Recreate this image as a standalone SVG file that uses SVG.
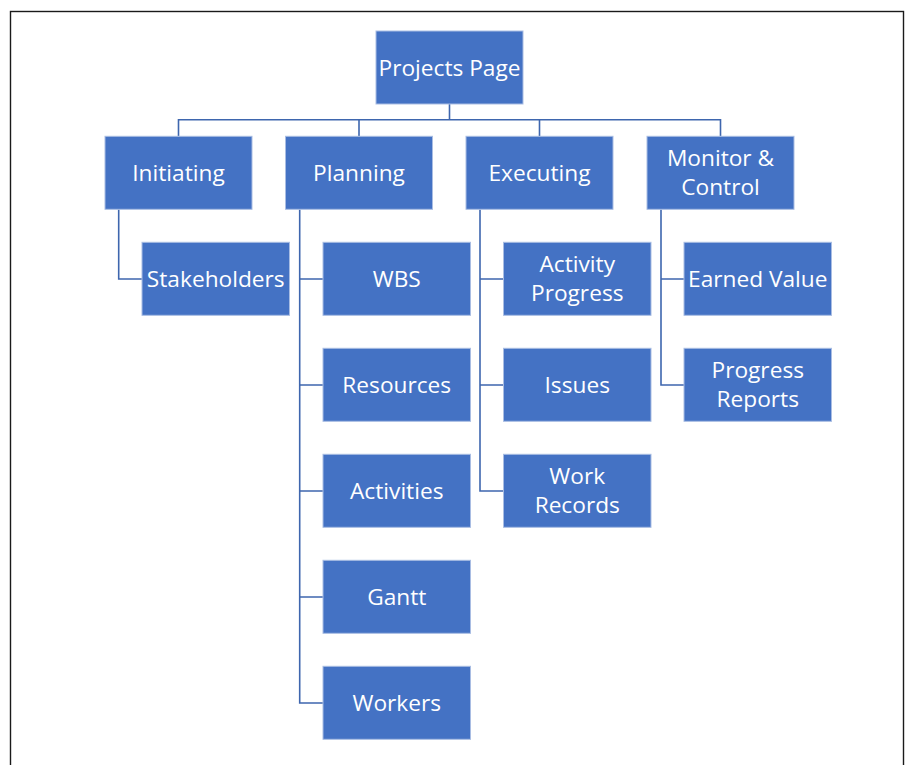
<svg xmlns="http://www.w3.org/2000/svg" width="906" height="765" viewBox="0 0 906 765">
<style>
.box{fill:#4472C4;stroke:#A9BDE3;stroke-width:1}
.t{font-family:"Open Sans","Liberation Sans",sans-serif;font-size:22.7px;fill:#ffffff;text-anchor:middle}
.c{fill:none;stroke:#3E66AE;stroke-width:1.6}
</style>
<rect x="0" y="0" width="906" height="765" fill="#ffffff"/>
<rect x="10.5" y="11.5" width="893" height="770" fill="none" stroke="#1a1a1a" stroke-width="1.4"/>
<g id="connectors">
<path class="c" d="M449.5 104V119.7M178.5 136V119.7H720.5V136M359 119.7V136M539.5 119.7V136"/>
<path class="c" d="M118.7 209.5V279H142"/>
<path class="c" d="M299.7 209.5V703H323M299.7 279H323M299.7 385H323M299.7 491H323M299.7 597H323"/>
<path class="c" d="M480 209.5V491H503.5M480 279H503.5M480 385H503.5"/>
<path class="c" d="M661 209.5V385H684M661 279H684"/>
</g>
<g id="projects-page"><rect class="box" x="376" y="31" width="147" height="73"/><text class="t" x="449.5" y="75.5">Projects Page</text></g>
<g id="initiating"><rect class="box" x="105" y="136.3" width="147" height="73"/><text class="t" x="178.5" y="180.8">Initiating</text></g>
<g id="planning"><rect class="box" x="285.5" y="136.3" width="147" height="73"/><text class="t" x="359" y="180.8">Planning</text></g>
<g id="executing"><rect class="box" x="466" y="136.3" width="147" height="73"/><text class="t" x="539.5" y="180.8">Executing</text></g>
<g id="monitor-control"><rect class="box" x="647" y="136.3" width="147" height="73"/><text class="t" x="720.5" y="166">Monitor &amp;</text><text class="t" x="720.5" y="195">Control</text></g>
<g id="stakeholders"><rect class="box" x="142" y="242.3" width="147.5" height="73"/><text class="t" x="215.75" y="286.8">Stakeholders</text></g>
<g id="wbs"><rect class="box" x="323" y="242.3" width="147.5" height="73"/><text class="t" x="396.75" y="286.8">WBS</text></g>
<g id="resources"><rect class="box" x="323" y="348.3" width="147.5" height="73"/><text class="t" x="396.75" y="392.8">Resources</text></g>
<g id="activities"><rect class="box" x="323" y="454.3" width="147.5" height="73"/><text class="t" x="396.75" y="498.8">Activities</text></g>
<g id="gantt"><rect class="box" x="323" y="560.3" width="147.5" height="73"/><text class="t" x="396.75" y="604.8">Gantt</text></g>
<g id="workers"><rect class="box" x="323" y="666.3" width="147.5" height="73"/><text class="t" x="396.75" y="710.8">Workers</text></g>
<g id="activity-progress"><rect class="box" x="503.5" y="242.3" width="147.5" height="73"/><text class="t" x="577.25" y="272">Activity</text><text class="t" x="577.25" y="301">Progress</text></g>
<g id="issues"><rect class="box" x="503.5" y="348.3" width="147.5" height="73"/><text class="t" x="577.25" y="392.8">Issues</text></g>
<g id="work-records"><rect class="box" x="503.5" y="454.3" width="147.5" height="73"/><text class="t" x="577.25" y="484">Work</text><text class="t" x="577.25" y="513">Records</text></g>
<g id="earned-value"><rect class="box" x="684" y="242.3" width="147.5" height="73"/><text class="t" x="757.75" y="286.8">Earned Value</text></g>
<g id="progress-reports"><rect class="box" x="684" y="348.3" width="147.5" height="73"/><text class="t" x="757.75" y="378">Progress</text><text class="t" x="757.75" y="407">Reports</text></g>
</svg>
